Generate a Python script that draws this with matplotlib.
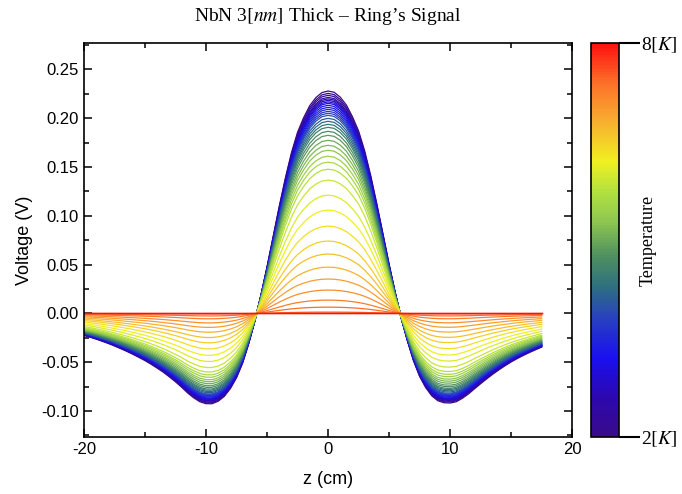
import numpy as np
import matplotlib
matplotlib.use('Agg')
import matplotlib.pyplot as plt
import matplotlib.ticker as ticker
from matplotlib.colors import LinearSegmentedColormap, Normalize
from matplotlib.cm import ScalarMappable

plt.rcParams['axes.unicode_minus'] = False
plt.rcParams['mathtext.fontset'] = 'stix'

# z positions (cm) of the scan
z = np.arange(-20, 17.75, 0.5)

# signal of the coldest curve (2 K)
profile = [-0.0225, -0.0243, -0.0263, -0.0285, -0.0308, -0.0333, -0.0360, -0.0388,
           -0.0418, -0.0450, -0.0483, -0.0520, -0.0560, -0.0602, -0.0650, -0.0700,
           -0.0755, -0.0815, -0.0865, -0.0905, -0.0925, -0.0925, -0.0900, -0.0850,
           -0.0770, -0.0660, -0.0510, -0.0310, -0.0080, 0.0185, 0.0475, 0.0785,
           0.1095, 0.1385, 0.1645, 0.1855, 0.2005, 0.2128, 0.2210, 0.2262,
           0.2278,
           0.2265, 0.2215, 0.2135, 0.2015, 0.1870, 0.1665, 0.1410, 0.1120,
           0.0815, 0.0505, 0.0215, -0.0050, -0.0280, -0.0485, -0.0645, -0.0760,
           -0.0845, -0.0895, -0.0915, -0.0918, -0.0905, -0.0870, -0.0825, -0.0772,
           -0.0720, -0.0670, -0.0622, -0.0578, -0.0536, -0.0497, -0.0462, -0.0430,
           -0.0400, -0.0372, -0.0345]

# temperatures (K) and peak voltage (V) of each curve
temps = [2.00, 2.15, 2.30, 2.45, 2.60, 2.75, 2.90, 3.05, 3.20, 3.35,
         3.50, 3.65, 3.80, 3.95, 4.10, 4.25, 4.40, 4.55, 4.70, 4.85,
         5.00, 5.15, 5.30, 5.45, 5.60, 5.75, 5.90, 6.05, 6.20, 6.35,
         6.50, 6.65, 6.80, 6.95, 7.10, 7.25, 7.40, 7.55, 7.70, 7.85, 8.00]
peaks = [0.2278, 0.2254, 0.2234, 0.2213, 0.2198, 0.2183, 0.2167, 0.2152, 0.2132, 0.2111,
         0.2091, 0.2070, 0.2050, 0.2029, 0.1998, 0.1968, 0.1937, 0.1906, 0.1865, 0.1824,
         0.1773, 0.1722, 0.1671, 0.1610, 0.1549, 0.1477, 0.1365, 0.1211, 0.1058, 0.0894,
         0.0741, 0.0608, 0.0474, 0.0352, 0.0239, 0.0136, 0.0064, 0.0013, 0.0, 0.0, 0.0]

# rainbow palette like the original colour bar
cmap = LinearSegmentedColormap.from_list('origin_rainbow', [
    (0.00, '#3a0a8a'), (0.10, '#2c08b0'), (0.20, '#1a10f0'), (0.30, '#2840c0'),
    (0.38, '#2e6f80'), (0.46, '#509060'), (0.55, '#90c850'), (0.62, '#b0e040'),
    (0.70, '#f0f020'), (0.80, '#f8b030'), (0.90, '#fb7028'), (1.00, '#ff1010')])
norm = Normalize(vmin=2, vmax=8)

fig = plt.figure(figsize=(6.82, 4.94), dpi=100)
ax = fig.add_axes([0.123, 0.1154, 0.716, 0.7976])
cax = fig.add_axes([0.8666, 0.1154, 0.041, 0.7976])

prof = np.array(profile)
for t, p in zip(temps, peaks):
    ax.plot(z, prof * p / prof.max(), color=cmap(norm(t)), lw=0.9)

ax.set_xlim(-20, 20)
ax.set_ylim(-0.1266, 0.277)
ax.xaxis.set_major_locator(ticker.MultipleLocator(10))
ax.xaxis.set_minor_locator(ticker.MultipleLocator(5))
ax.yaxis.set_major_locator(ticker.MultipleLocator(0.05))
ax.yaxis.set_minor_locator(ticker.MultipleLocator(0.025))
ax.yaxis.set_major_formatter(ticker.FormatStrFormatter('%.2f'))
ax.tick_params(which='both', direction='in', top=True, right=True,
               labelsize=12, width=1.1)
ax.tick_params(which='major', length=6)
ax.tick_params(which='minor', length=3.5)
for lab in ax.get_xticklabels() + ax.get_yticklabels():
    lab.set_fontfamily('Liberation Sans')
for s in ax.spines.values():
    s.set_linewidth(1.2)

ax.set_xlabel('z (cm)', fontsize=13, family='Liberation Sans', labelpad=10)
ax.set_ylabel('Voltage (V)', fontsize=13, family='Liberation Sans', labelpad=6)
ax.set_title(r'NbN 3$[nm]$ Thick – Ring’s Signal', fontsize=14,
             family='Liberation Serif', pad=16)

cb = fig.colorbar(ScalarMappable(norm=norm, cmap=cmap), cax=cax)
cb.set_ticks([2, 8])
cb.set_ticklabels([r'2$[K]$', r'8$[K]$'])
cb.outline.set_linewidth(1.2)
cax.tick_params(length=15, width=1.5, labelsize=14, pad=1)
for lab in cax.get_yticklabels():
    lab.set_fontfamily('Liberation Serif')
cax.text(2.05, 0.5, 'Temperature', transform=cax.transAxes, rotation=90,
         va='center', ha='center', fontsize=13, family='Liberation Serif')

fig.savefig('out.png', dpi=100)
